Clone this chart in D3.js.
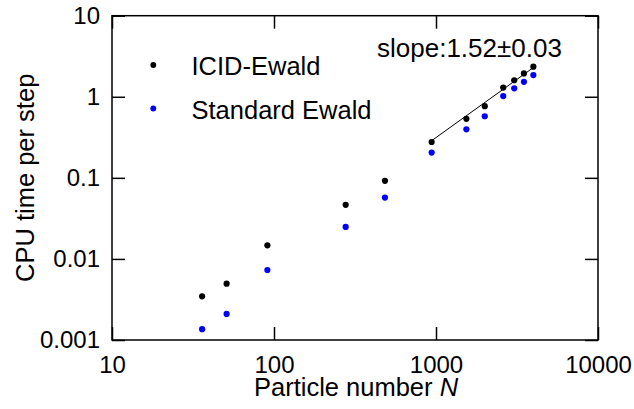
<!DOCTYPE html>
<html><head><meta charset="utf-8">
<script src="https://cdn.jsdelivr.net/npm/d3@7"></script>
<style>
html,body{margin:0;padding:0;background:#fff;}
text{font-family:"Liberation Sans",Arial,Helvetica,sans-serif;fill:#000;}
</style></head>
<body>
<svg id="chart" width="634" height="409"></svg>
<script>
const particleN   = [36, 51, 91, 277, 484, 940, 1540, 2000, 2600, 3040, 3490, 3990];
const icidEwald   = [0.00346, 0.00495, 0.0147, 0.0465, 0.092, 0.277, 0.534, 0.766, 1.30, 1.60, 1.94, 2.35];
const stdEwald    = [0.00136, 0.0021, 0.0073, 0.0248, 0.0571, 0.205, 0.397, 0.575, 1.02, 1.27, 1.53, 1.85];
const fitN        = [940, 4120];
const fitValues   = [0.287, 2.40];
const xTicks      = [10, 100, 1000, 10000];
const xTickLabels = ["10", "100", "1000", "10000"];
const yTicks      = [0.001, 0.01, 0.1, 1, 10];
const yTickLabels = ["0.001", "0.01", "0.1", "1", "10"];
const seriesNames = ["ICID-Ewald", "Standard Ewald"];
const seriesColors = ["#000000", "#0000ff"];
const slopeText   = "slope:1.52\u00b10.03";

const svg = d3.select("#chart");
const L = 112, R = 598, T = 15.7, B = 340;
const x = d3.scaleLog().domain([10, 10000]).range([L, R]);
const y = d3.scaleLog().domain([0.001, 10]).range([B, T]);

function styleAxis(g, fs){
  g.select(".domain").remove();
  g.selectAll(".tick line").attr("stroke", "#000").attr("stroke-width", 1.5);
  g.selectAll("text").style("font-size", fs + "px").attr("fill", "#000");
}
const tickLen = 13;
// bottom
svg.append("g").attr("transform", `translate(0,${B})`)
  .call(d3.axisBottom(x).tickValues(xTicks).tickFormat((d,i)=>xTickLabels[i]).tickSize(-tickLen).tickPadding(15.5))
  .call(g=>styleAxis(g,24));
// top
svg.append("g").attr("transform", `translate(0,${T})`)
  .call(d3.axisTop(x).tickValues(xTicks).tickFormat("").tickSize(-tickLen))
  .call(g=>styleAxis(g,24));
// left
svg.append("g").attr("transform", `translate(${L},0)`)
  .call(d3.axisLeft(y).tickValues(yTicks).tickFormat((d,i)=>yTickLabels[i]).tickSize(-tickLen).tickPadding(12))
  .call(g=>styleAxis(g,24));
// right
svg.append("g").attr("transform", `translate(${R},0)`)
  .call(d3.axisRight(y).tickValues(yTicks).tickFormat("").tickSize(-tickLen))
  .call(g=>styleAxis(g,24));

// frame
svg.append("rect").attr("x", L).attr("y", T).attr("width", R-L).attr("height", B-T)
  .attr("fill", "none").attr("stroke", "#000").attr("stroke-width", 1.5);

// fit line
svg.append("line")
  .attr("x1", x(fitN[0])).attr("y1", y(fitValues[0]))
  .attr("x2", x(fitN[1])).attr("y2", y(fitValues[1]))
  .attr("stroke", "#000").attr("stroke-width", 1);

// points
[icidEwald, stdEwald].forEach((vals, si) => {
  svg.append("g").selectAll("circle").data(vals).join("circle")
    .attr("cx", (d,i)=>x(particleN[i])).attr("cy", d=>y(d))
    .attr("r", 3.1).attr("fill", seriesColors[si]);
});

// legend
seriesNames.forEach((name, i) => {
  const yy = 75 + i*43.5;
  svg.append("circle").attr("cx", 153.3).attr("cy", yy - 10).attr("r", 2.9).attr("fill", seriesColors[i]);
  svg.append("text").attr("x", 191.5).attr("y", yy).style("font-size", "25.5px").text(name);
});

// slope annotation
svg.append("text").attr("x", 377).attr("y", 57.3).style("font-size", "26px").text(slopeText);

// axis titles
const xt = svg.append("text").attr("x", (L+R)/2 + 1).attr("y", 396).attr("text-anchor", "middle").style("font-size", "25.5px");
xt.append("tspan").text("Particle number ");
xt.append("tspan").style("font-style", "italic").text("N");

svg.append("text").attr("transform", `translate(33.5,${(T+B)/2}) rotate(-90)`)
  .attr("text-anchor", "middle").style("font-size", "25.5px").text("CPU time per step");
</script>
</body></html>
